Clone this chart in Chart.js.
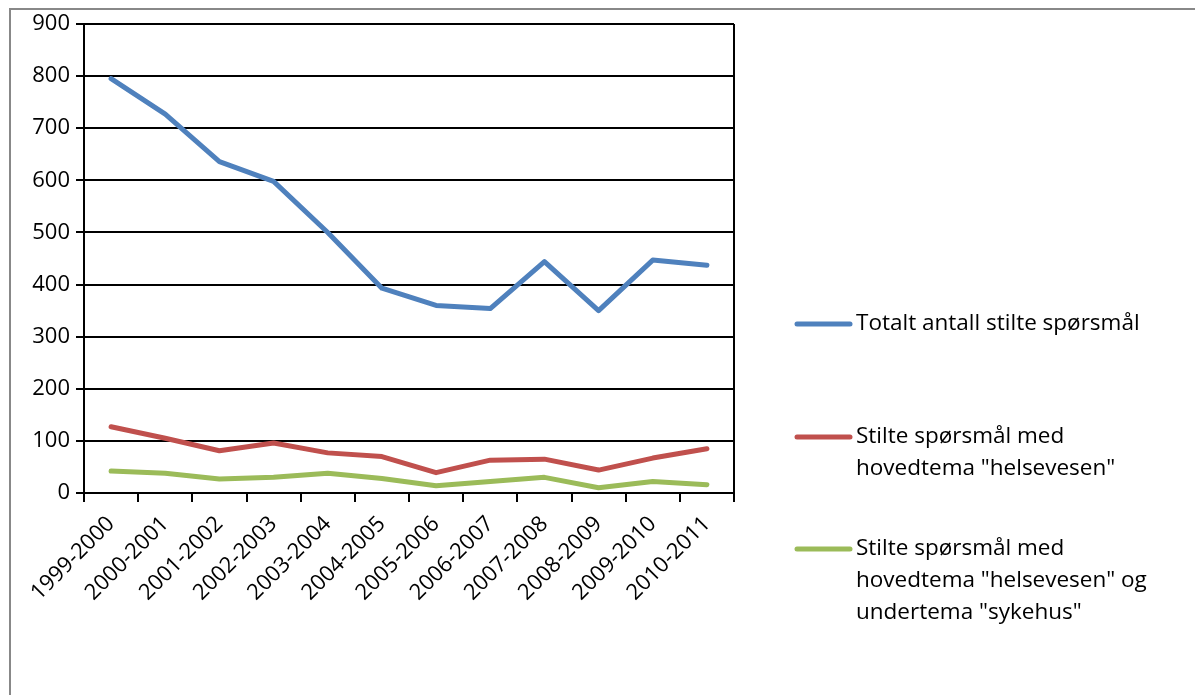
<!DOCTYPE html>
<html>
<head>
<meta charset="utf-8">
<script src="https://cdn.jsdelivr.net/npm/chart.js@4"></script>
<style>
  html, body { margin: 0; padding: 0; background: #fff; }
  #wrap { width: 1195px; height: 695px; position: relative; }
</style>
</head>
<body>
<div id="wrap"><canvas id="chart" width="1195" height="695"></canvas></div>
<script>
  const seasons = ['1999-2000', '2000-2001', '2001-2002', '2002-2003', '2003-2004', '2004-2005',
    '2005-2006', '2006-2007', '2007-2008', '2008-2009', '2009-2010', '2010-2011'];
  const totalQuestions = [795, 727, 636, 598, 500, 393, 360, 354, 444, 350, 447, 437];
  const healthQuestions = [127, 105, 81, 96, 77, 70, 39, 63, 65, 44, 67, 85];
  const hospitalQuestions = [42, 38, 27, 30, 38, 28, 14, 22, 30, 10, 22, 16];
  const yTicks = [0, 100, 200, 300, 400, 500, 600, 700, 800, 900];

  const seriesLabels = [
    ['Totalt antall stilte spørsmål'],
    ['Stilte spørsmål med', 'hovedtema "helsevesen"'],
    ['Stilte spørsmål med', 'hovedtema "helsevesen" og', 'undertema "sykehus"']
  ];
  const legendRows = [324, 437, 549];

  const FONT = '"Open Sans", Lato, sans-serif';

  // frame, right plot border and the legend on the right
  const decor = {
    id: 'decor',
    beforeDraw(chart) {
      const ctx = chart.ctx;
      ctx.save();
      ctx.strokeStyle = '#888';
      ctx.lineWidth = 2;
      ctx.beginPath();
      ctx.moveTo(10, 695);
      ctx.lineTo(10, 9);
      ctx.lineTo(1195, 9);
      ctx.stroke();
      ctx.restore();
    },
    afterDraw(chart) {
      const ctx = chart.ctx;
      const a = chart.chartArea;
      ctx.save();
      ctx.strokeStyle = '#000';
      ctx.lineWidth = 2;
      ctx.beginPath();
      ctx.moveTo(a.right, a.top);
      ctx.lineTo(a.right, a.bottom + 8);
      ctx.stroke();

      ctx.font = '22.5px ' + FONT;
      ctx.textBaseline = 'middle';
      ctx.fillStyle = '#000';
      chart.data.datasets.forEach((ds, i) => {
        const y = legendRows[i];
        ctx.strokeStyle = ds.borderColor;
        ctx.lineWidth = 5;
        ctx.lineCap = 'round';
        ctx.beginPath();
        ctx.moveTo(797, y);
        ctx.lineTo(850, y);
        ctx.stroke();
        seriesLabels[i].forEach((line, j) => {
          ctx.fillText(line, 856, y + j * 32);
        });
      });
      ctx.restore();
    }
  };

  new Chart(document.getElementById('chart'), {
    type: 'line',
    data: {
      labels: seasons,
      datasets: [
        { label: seriesLabels[0].join(' '), data: totalQuestions, borderColor: '#4F81BD' },
        { label: seriesLabels[1].join(' '), data: healthQuestions, borderColor: '#C0504D' },
        { label: seriesLabels[2].join(' '), data: hospitalQuestions, borderColor: '#9BBB59' }
      ]
    },
    options: {
      responsive: false,
      animation: false,
      layout: { padding: { top: 24, right: 461, left: 0, bottom: 0 } },
      elements: {
        line: { borderWidth: 5, borderCapStyle: 'round', borderJoinStyle: 'round', tension: 0 },
        point: { radius: 0 }
      },
      plugins: { legend: { display: false }, tooltip: { enabled: false } },
      scales: {
        x: {
          offset: true,
          grid: { offset: true, drawOnChartArea: false, drawTicks: true, tickLength: 9, color: '#000', lineWidth: 2 },
          border: { color: '#000', width: 2 },
          ticks: { color: '#000', font: { family: FONT, size: 22 }, minRotation: 45, maxRotation: 45, padding: 9 },
          afterFit(s) { s.height = 202; }
        },
        y: {
          min: 0,
          max: 900,
          afterBuildTicks(s) { s.ticks = yTicks.map(v => ({ value: v })); },
          grid: { color: '#000', lineWidth: 2, tickLength: 8 },
          border: { color: '#000', width: 2 },
          ticks: { color: '#000', font: { family: FONT, size: 22 }, padding: 6 },
          afterFit(s) { s.width = 84; }
        }
      }
    },
    plugins: [decor]
  });
</script>
</body>
</html>
